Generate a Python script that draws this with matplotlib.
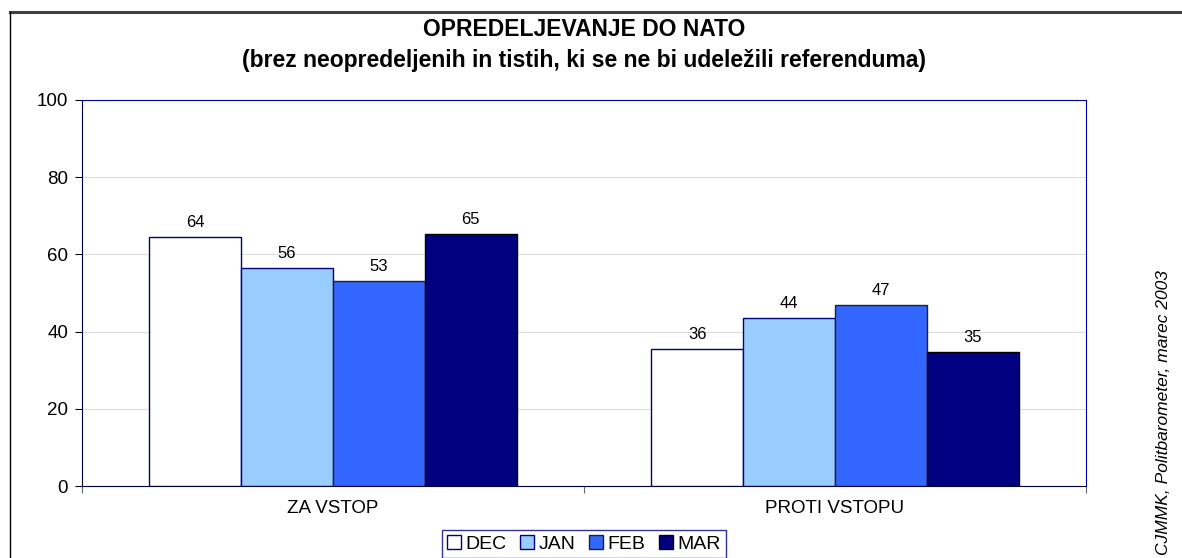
import numpy as np
import matplotlib.pyplot as plt
from matplotlib.lines import Line2D

plt.rcParams['font.family'] = ['Liberation Sans', 'DejaVu Sans']

# podatki
kategorije = ['ZA VSTOP', 'PROTI VSTOPU']
meseci = ['DEC', 'JAN', 'FEB', 'MAR']
dec = [64.4, 35.6]
jan = [56.4, 43.6]
feb = [53.0, 47.0]
mar = [65.2, 34.8]
oznake = [[64, 36], [56, 44], [53, 47], [65, 35]]
y_ticks = [0, 20, 40, 60, 80, 100]

barve = ['white', '#99CCFF', '#3366FF', '#000080']
robovi = ['#000080', '#000080', '#222222', '#000000']

fig = plt.figure(figsize=(11.82, 5.58), dpi=100)
ax = fig.add_axes([0.0694, 0.129, 0.8494, 0.6918])

x = np.arange(len(kategorije))
w = 0.183
serije = [dec, jan, feb, mar]
for i, s in enumerate(serije):
    pos = x + (i - 1.5) * w
    ax.bar(pos, s, width=w, color=barve[i], edgecolor=robovi[i], linewidth=1.0,
           label=meseci[i], zorder=3)
    for px, v, t in zip(pos, s, oznake[i]):
        ax.annotate(str(t), (px, v), xytext=(0, 5), textcoords='offset points',
                    ha='center', va='bottom', fontsize=12)

ax.set_xlim(-0.5, 1.5)
ax.set_ylim(0, 100)
ax.set_yticks(y_ticks)
ax.tick_params(axis='y', labelsize=13.5, direction='out', length=5, pad=5)
ax.set_xticks([-0.5, 0.5, 1.5])
ax.set_xticklabels([])
ax.set_xticks(x, minor=True)
ax.set_xticklabels(kategorije, minor=True)
ax.tick_params(axis='x', which='minor', length=0, labelsize=13.5, pad=10)
ax.tick_params(axis='x', which='major', length=5, direction='out', color='#666666')
ax.yaxis.grid(True, color='#dddddd', linewidth=0.8, zorder=0)
ax.set_axisbelow(True)
for sp in ['left', 'bottom']:
    ax.spines[sp].set_color('#000040')
for sp in ['top', 'right']:
    ax.spines[sp].set_color('#0000a0')

fig.text(0.494, 0.948, 'OPREDELJEVANJE DO NATO', ha='center', va='center',
         fontsize=16.5, fontweight='bold')
fig.text(0.494, 0.891, '(brez neopredeljenih in tistih, ki se ne bi udeležili referenduma)',
         ha='center', va='center', fontsize=16.5, fontweight='bold')

fig.text(0.984, 0.006, 'CJMMK, Politbarometer, marec 2003', rotation=90,
         ha='center', va='bottom', fontsize=12.5, style='italic')

leg = ax.legend(loc='upper center', bbox_to_anchor=(0.5, -0.115), ncol=4,
                fontsize=14, frameon=True, fancybox=False, handlelength=0.7,
                handleheight=0.7, handletextpad=0.25, columnspacing=0.7,
                borderpad=0.25, borderaxespad=0)
leg.get_frame().set_edgecolor('#000080')
leg.get_frame().set_linewidth(1.0)

# okvir slike
fig.add_artist(Line2D([0.0085, 1.0], [0.978, 0.978], color='#404040', linewidth=2.2))
fig.add_artist(Line2D([0.0085, 0.0085], [0.0, 0.978], color='black', linewidth=1.0))

fig.savefig('out.png', dpi=100)
